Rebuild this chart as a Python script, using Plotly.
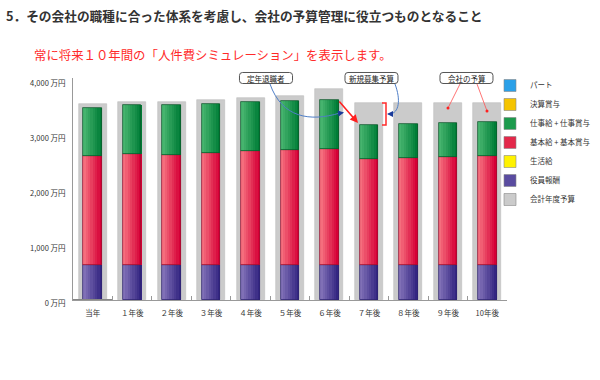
import numpy as np
import plotly.graph_objects as go

# ---- data (万円) ----
categories = ["当年", "１年後", "２年後", "３年後", "４年後", "５年後",
              "６年後", "７年後", "８年後", "９年後", "10年後"]
yakuin = [640, 640, 640, 640, 640, 640, 640, 640, 640, 640, 640]          # 役員報酬
kihon = [1980, 2010, 2005, 2025, 2060, 2085, 2105, 1930, 1940, 1955, 1985]  # 基本給＋基本賞与
shigoto = [865, 900, 900, 900, 895, 900, 895, 620, 620, 630, 615]           # 仕事給＋仕事賞与
budget = [3560, 3600, 3600, 3640, 3680, 3715, 3830, 3590, 3590, 3590, 3590]  # 会計年度予算
ytick_vals = [0, 1000, 2000, 3000, 4000]
ytick_text = ["0 万円", "1,000 万円", "2,000 万円", "3,000 万円", "4,000 万円"]

FONT = "Noto Sans CJK JP"
base_kihon = np.array(yakuin)
base_shigoto = np.array(yakuin) + np.array(kihon)

fig = go.Figure()

# budget (grey boxes behind)
fig.add_trace(go.Bar(x=categories, y=budget, width=0.71, marker=dict(color="#cbcbcb", line=dict(color="#bdbdbd", width=0.6)),
                     showlegend=False, hoverinfo="skip"))

BW = 0.47
N = 8

def grad_bars(values, base, c_left, c_right, edge):
    cl = np.array(c_left, float); cr = np.array(c_right, float)
    for i in range(N):
        t = i / (N - 1)
        c = cl + (cr - cl) * t
        col = "rgb(%d,%d,%d)" % tuple(c.round())
        fig.add_trace(go.Bar(x=categories, y=values, base=base, width=BW / N * 1.02,
                             offset=-BW / 2 + i * BW / N, marker=dict(color=col, line=dict(width=0)),
                             showlegend=False, hoverinfo="skip"))
    fig.add_trace(go.Bar(x=categories, y=values, base=base, width=BW,
                         marker=dict(color="rgba(0,0,0,0)", line=dict(color=edge, width=0.8)),
                         showlegend=False, hoverinfo="skip"))

grad_bars(yakuin, [0] * len(categories), (128, 112, 182), (52, 38, 130), "#2e2470")
grad_bars(kihon, base_kihon, (245, 110, 125), (214, 0, 55), "#9a1030")
grad_bars(shigoto, base_shigoto, (70, 180, 110), (0, 125, 55), "#0b5a2c")

# legend entries
legend_items = [("パート", "#2aa0e8"), ("決算賞与", "#f5c400"), ("仕事給 + 仕事賞与", "#1c9a4c"),
                ("基本給 + 基本賞与", "#e3284a"), ("生活給", "#fff200"), ("役員報酬", "#5a4ca0"),
                ("会計年度予算", "#cbcbcb")]
for name, col in legend_items:
    fig.add_trace(go.Bar(x=[categories[0]], y=[0], name=name,
                         marker=dict(color=col, line=dict(color="#888", width=0.6)), hoverinfo="skip"))

L, R, T, B = 73, 507, 78, 300
def px(x): return (x - L) / (R - L)
def py(y): return (B - y) / (B - T)
def P(x, y): return "%.4f,%.4f" % (px(x), py(y))

def rrect(x0, y0, x1, y1, r=3):
    return ("M %s L %s Q %s %s L %s Q %s %s L %s Q %s %s L %s Q %s %s Z" % (
        P(x0 + r, y0), P(x1 - r, y0), P(x1, y0), P(x1, y0 + r), P(x1, y1 - r), P(x1, y1), P(x1 - r, y1),
        P(x0 + r, y1), P(x0, y1), P(x0, y1 - r), P(x0, y0 + r), P(x0, y0), P(x0 + r, y0)))

shapes = []
# red bracket
shapes.append(dict(type="path", xref="paper", yref="paper",
                   path="M %s L %s L %s L %s" % (P(382, 103), P(386, 103), P(386, 125), P(382, 125)),
                   line=dict(color="#ff2a2a", width=1.5)))
# blue curves
shapes.append(dict(type="path", xref="paper", yref="paper",
                   path="M %s C %s %s %s" % (P(270, 84), P(282, 118), P(310, 122), P(340, 113)),
                   line=dict(color="#4f7fc8", width=1)))
shapes.append(dict(type="path", xref="paper", yref="paper",
                   path="M %s C %s %s %s" % (P(395, 84), P(401, 100), P(399, 113), P(390, 114)),
                   line=dict(color="#4f7fc8", width=1)))
# red pointer lines
shapes.append(dict(type="line", xref="paper", yref="paper", x0=px(460), y0=py(84), x1=px(448), y1=py(108),
                   line=dict(color="#ff5050", width=0.8)))
shapes.append(dict(type="line", xref="paper", yref="paper", x0=px(477), y0=py(84), x1=px(487), y1=py(111),
                   line=dict(color="#ff5050", width=0.8)))
for (cx, cy) in [(448, 108), (487, 111)]:
    shapes.append(dict(type="circle", xref="paper", yref="paper", x0=px(cx - 1.5), x1=px(cx + 1.5),
                       y0=py(cy + 1.5), y1=py(cy - 1.5), fillcolor="#ff2020", line=dict(width=0)))

ann = []
for text, cx in [("定年退職者", 266), ("新規募集予算", 371.5), ("会社の予算", 466.5)]:
    shapes.append(dict(type="path", xref="paper", yref="paper", path=rrect(cx - 26.5, 72.5, cx + 26.5, 83.5),
                       fillcolor="white", line=dict(color="#555", width=1)))
    ann.append(dict(text=text, xref="paper", yref="paper", x=px(cx), y=py(78), xanchor="center", yanchor="middle",
                    showarrow=False, font=dict(family=FONT, size=7.5, color="#222")))
# red arrow
ann.append(dict(text="", xref="paper", yref="paper", x=px(358), y=py(123), ax=-20, ay=-23, showarrow=True,
                arrowhead=2, arrowsize=1, arrowwidth=1.6, arrowcolor="#ff2020"))
# blue arrowheads
ann.append(dict(text="", xref="paper", yref="paper", x=px(344), y=py(112.5), ax=-5, ay=0.8, showarrow=True,
                arrowhead=2, arrowsize=1, arrowwidth=1.2, arrowcolor="#1a3a9a"))
ann.append(dict(text="", xref="paper", yref="paper", x=px(387), y=py(114), ax=5, ay=0, showarrow=True,
                arrowhead=2, arrowsize=1, arrowwidth=1.2, arrowcolor="#1a3a9a"))
# headings
ann.append(dict(text="<b>5．その会社の職種に合った体系を考慮し、会社の予算管理に役立つものとなること</b>",
                xref="paper", yref="paper", x=px(4), y=py(16), xanchor="left", yanchor="middle", showarrow=False,
                font=dict(family=FONT, size=12.7, color="#333333")))
ann.append(dict(text="常に将来１０年間の「人件費シミュレーション」を表示します。",
                xref="paper", yref="paper", x=px(32), y=py(55), xanchor="left", yanchor="middle", showarrow=False,
                font=dict(family=FONT, size=12.4, color="#ff2a2a")))

fig.update_layout(
    width=600, height=380, barmode="overlay", bargap=0,
    margin=dict(l=L, r=600 - R, t=T, b=380 - B, pad=0, autoexpand=False),
    paper_bgcolor="white", plot_bgcolor="white",
    font=dict(family=FONT, size=8, color="#333"),
    xaxis=dict(type="category", range=[-0.5, 10.5], showline=True, linecolor="#999", linewidth=1,
               ticks="inside", tickson="boundaries", ticklen=4, tickcolor="#999", showgrid=False,
               tickfont=dict(size=7.5, color="#333"), automargin=False, ticklabelstandoff=6),
    yaxis=dict(range=[0, 4036], tickvals=ytick_vals, ticktext=ytick_text, showline=True, linecolor="#999",
               linewidth=1, ticks="", showgrid=False, zeroline=False, tickfont=dict(size=7.5, color="#333"),
               automargin=False, ticklabelstandoff=5, ticklabelshift=3),
    legend=dict(xref="container", yref="container", x=490 / 600, y=1 - 71 / 380, xanchor="left", yanchor="top",
                traceorder="normal", tracegroupgap=0, itemwidth=30, font=dict(size=7.5, color="#333"),
                bgcolor="rgba(0,0,0,0)"),
    shapes=shapes, annotations=ann, showlegend=True,
)
fig.write_html("out.html", post_script="document.body.style.margin='0';",
               config={"displayModeBar": False})
